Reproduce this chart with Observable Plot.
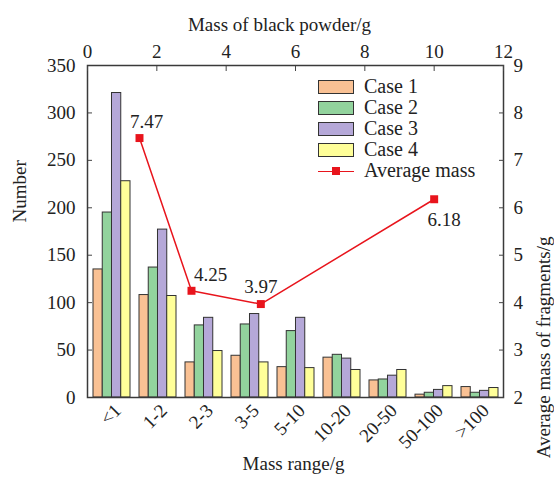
<!DOCTYPE html>
<html>
<head>
<meta charset="utf-8">
<script src="https://cdn.jsdelivr.net/npm/d3@7"></script>
<script src="https://cdn.jsdelivr.net/npm/@observablehq/plot@0.6"></script>
<style>
  html, body { margin: 0; padding: 0; background: #fff; }
  #chart { position: relative; width: 554px; height: 487px; font-family: "Liberation Serif", "Times New Roman", serif; }
  #chart svg { position: absolute; left: 0; top: 0; }
  #chart svg text { font-family: "Liberation Serif", "Times New Roman", serif; font-variant-numeric: normal; }
  #legend { position: absolute; left: 318px; top: 76px; font-size: 20px; color: #222; line-height: 21px; }
  .row { display: flex; align-items: center; height: 21px; }
  .sw { width: 34px; height: 12px; border: 1px solid #333; margin-right: 10px; box-sizing: content-box; }
  .ln { width: 36px; height: 12px; margin-right: 10px; position: relative; }
  .ln::before { content: ""; position: absolute; left: 0; right: 0; top: 6px; border-top: 1.5px solid #e8141c; }
  .ln::after { content: ""; position: absolute; left: 14px; top: 2px; width: 8px; height: 8px; background: #e8141c; }
</style>
</head>
<body>
<div id="chart"></div>
<script>
// ---- data ----
const ranges = ["<1", "1-2", "2-3", "3-5", "5-10", "10-20", "20-50", "50-100", ">100"];
const cases = ["Case 1", "Case 2", "Case 3", "Case 4"];
const case1 = [135, 108, 37, 44, 32, 42, 18, 3, 11];
const case2 = [195, 137, 76, 77, 70, 45, 19, 5, 5];
const case3 = [321, 177, 84, 88, 84, 41, 23, 8, 7];
const case4 = [228, 107, 49, 37, 31, 29, 29, 12, 10];
const powderMass = [1.5, 3, 5, 10];
const avgMass = [7.47, 4.25, 3.97, 6.18];
const leftTicks = [0, 50, 100, 150, 200, 250, 300, 350];
const rightTicks = [2, 3, 4, 5, 6, 7, 8, 9];
const topTicks = [0, 2, 4, 6, 8, 10, 12];
const caseColors = ["#f9c194", "#92d39d", "#b5a8d8", "#ffff99"];

// ---- layout ----
const W = 554, H = 487;
const mL = 87, mR = 51, mT = 65, mB = 90;
const font = "'Liberation Serif', 'Times New Roman', serif";
const ink = "#222";
const fs = 19;

const series = [case1, case2, case3, case4];
const bars = [];
series.forEach((vals, ci) => vals.forEach((v, ri) => bars.push({range: ranges[ri], c: cases[ci], ci, value: v})));
const lineData = powderMass.map((m, i) => ({m, a: avgMass[i]}));

const xBand = {type: "band", domain: ranges, paddingInner: 0.2, paddingOuter: 0.1};
const bw = Plot.scale({x: {...xBand, range: [mL, W - mR]}}).bandwidth;
const sub = bw / cases.length;

const common = {
  width: W, height: H, marginLeft: mL, marginRight: mR, marginTop: mT, marginBottom: mB,
  style: {fontFamily: font, fontSize: fs + "px", color: ink, background: "transparent", overflow: "visible"}
};
const txt = {fontFamily: font, fontSize: fs, fill: ink};

const plotA = Plot.plot({
  ...common,
  x: {...xBand, label: null},
  y: {domain: [0, 350], label: null},
  color: {domain: cases, range: caseColors},
  marks: [
    ...cases.map((c, i) => Plot.barY(bars.filter(d => d.ci === i), {
      x: "range", y: "value", fill: "c", stroke: "#333", strokeWidth: 1,
      insetLeft: i * sub, insetRight: (cases.length - 1 - i) * sub
    })),
    Plot.axisY({ticks: leftTicks, tickSize: -5, tickPadding: 17, label: null, stroke: "#444", ...txt}),
    Plot.axisX({tickRotate: -45, tickSize: 0, tickPadding: 10, dx: 6, label: null, ...txt})
  ]
});

const plotB = Plot.plot({
  ...common,
  x: {domain: [0, 12], label: null},
  y: {domain: [2, 9], label: null},
  marks: [
    Plot.frame({stroke: "#3a3a3a", strokeWidth: 1.5}),
    Plot.axisX({anchor: "top", ticks: topTicks, tickSize: -5, tickPadding: 13, label: null, stroke: "#444", ...txt}),
    Plot.axisY({anchor: "right", ticks: rightTicks, tickFormat: d => String(d), tickSize: -5, tickPadding: 15, label: null, stroke: "#444", ...txt}),
    Plot.line(lineData, {x: "m", y: "a", stroke: "#e8141c", strokeWidth: 1.5}),
    Plot.dot(lineData, {x: "m", y: "a", symbol: "square", r: 4.5, fill: "#e8141c", stroke: "none"}),
    Plot.text(lineData.filter((d, i) => i === 0), {x: "m", y: "a", text: d => d.a.toFixed(2), dx: 7, dy: -16, ...txt}),
    Plot.text(lineData.filter((d, i) => i === 1), {x: "m", y: "a", text: d => d.a.toFixed(2), dx: 19, dy: -16, ...txt}),
    Plot.text(lineData.filter((d, i) => i === 2), {x: "m", y: "a", text: d => d.a.toFixed(2), dx: 0, dy: -17, ...txt}),
    Plot.text(lineData.filter((d, i) => i === 3), {x: "m", y: "a", text: d => d.a.toFixed(2), dx: 10, dy: 21, ...txt}),
    Plot.text(["Mass of black powder/g"], {frameAnchor: "top", dx: -16, dy: -48, ...txt}),
    Plot.text(["Number"], {frameAnchor: "left", dx: -68, dy: -9, rotate: -90, ...txt}),
    Plot.text(["Average mass of fragments/g"], {frameAnchor: "right", dx: 40, dy: 5, rotate: -90, ...txt}),
    Plot.text(["Mass range/g"], {frameAnchor: "bottom", dx: -2, dy: 72, ...txt})
  ]
});

const chart = document.getElementById("chart");
chart.appendChild(plotA);
chart.appendChild(plotB);

const legend = document.createElement("div");
legend.id = "legend";
cases.forEach((c, i) => {
  const row = document.createElement("div");
  row.className = "row";
  const sw = document.createElement("span");
  sw.className = "sw";
  sw.style.background = caseColors[i];
  const t = document.createElement("span");
  t.textContent = c;
  row.append(sw, t);
  legend.appendChild(row);
});
const lrow = document.createElement("div");
lrow.className = "row";
const ln = document.createElement("span");
ln.className = "ln";
const lt = document.createElement("span");
lt.textContent = "Average mass";
lrow.append(ln, lt);
legend.appendChild(lrow);
chart.appendChild(legend);
</script>
</body>
</html>
